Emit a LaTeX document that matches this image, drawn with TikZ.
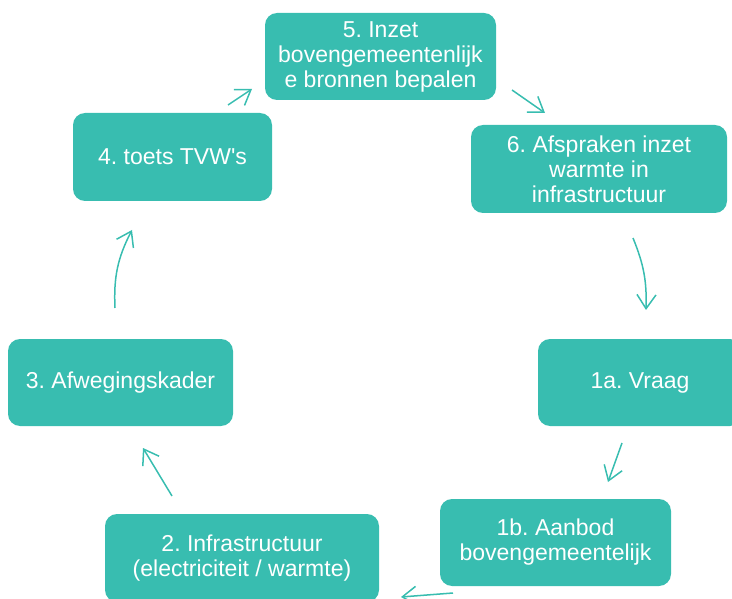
\documentclass[tikz,border=0pt]{standalone}
\usepackage{fontspec}
\setmainfont{Liberation Sans}[Ligatures=TeXOff]
\usetikzlibrary{arrows.meta}
\definecolor{teal1}{HTML}{38BDB0}
\frenchspacing
\begin{document}
\begin{tikzpicture}[x=1pt,y=-1pt,
  box/.style={draw=none,fill=teal1,rounded corners=12pt,inner sep=0pt,
    align=center,text=white,font=\fontsize{23}{25}\selectfont},
  conn/.style={draw=teal1,line width=1.5pt,-{Straight Barb[length=14pt,width=19pt]}}]
\useasboundingbox (0,0) rectangle (732,599);
\node[box,minimum width=231pt,minimum height=87pt] (n5) at (380.5,56.5) {5. Inzet\\bovengemeentenlijk\\e bronnen bepalen};
\node[box,minimum width=256pt,minimum height=88pt] (n6) at (599,169) {6. Afspraken inzet\\warmte in\\infrastructuur};
\node[box,minimum width=199pt,minimum height=88pt] (n4) at (172.5,157) {4. toets TVW's};
\node[box,minimum width=225pt,minimum height=87pt] (n3) at (120.5,382.5) {3. Afwegingskader};
\node[box,minimum width=204pt,minimum height=87pt] (n1a) at (640,382.5) {1a. Vraag};
\node[box,minimum width=231pt,minimum height=87pt] (n1b) at (555.5,542.5) {1b. Aanbod\\bovengemeentelijk};
\node[box,minimum width=274pt,minimum height=88pt] (n2) at (242,558) {2. Infrastructuur\\(electriciteit / warmte)};
% connector end points
\coordinate (a45s) at (228,105); \coordinate (a45e) at (252,89);
\coordinate (a56s) at (512,90);  \coordinate (a56e) at (545,113);
\coordinate (a61s) at (633,238); \coordinate (a61e) at (646,310);
\coordinate (a11s) at (622,443); \coordinate (a11e) at (608,482);
\coordinate (a12s) at (453,593); \coordinate (a12e) at (401,597);
\coordinate (a23s) at (172,496); \coordinate (a23e) at (143,448);
\coordinate (a34s) at (115,308); \coordinate (a34e) at (132,230);
\draw[conn] (a45s) -- (a45e);
\draw[conn] (a56s) -- (a56e);
\draw[conn] (a61s) to[bend left=12] (a61e);
\draw[conn] (a11s) -- (a11e);
\draw[conn] (a12s) -- (a12e);
\draw[conn] (a23s) -- (a23e);
\draw[conn] (a34s) to[bend left=15] (a34e);
\end{tikzpicture}
\end{document}
